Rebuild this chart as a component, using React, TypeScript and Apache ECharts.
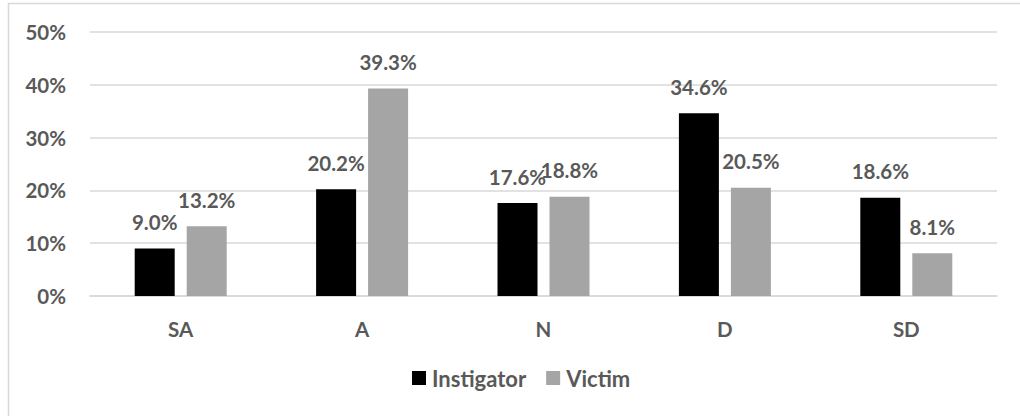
import React, { useEffect, useRef } from "react";
import * as echarts from "echarts";

const categories = ["SA", "A", "N", "D", "SD"];
const instigator = [9.0, 20.2, 17.6, 34.6, 18.6];
const victim = [13.2, 39.3, 18.8, 20.5, 8.1];
const seriesNames = ["Instigator", "Victim"];

const FONT = "Lato, 'Open Sans', sans-serif";
const TXT = "#595959";

export default function App() {
  const ref = useRef<HTMLDivElement>(null);
  useEffect(() => {
    if (!ref.current) return;
    const chart = echarts.init(ref.current, undefined, { renderer: "svg" });
    const label = {
      show: true,
      position: "top" as const,
      distance: 16,
      formatter: (p: any) => p.value.toFixed(1) + "%",
      color: TXT,
      fontFamily: FONT,
      fontWeight: "bold" as const,
      fontSize: 20.5,
    };
    chart.setOption({
      animation: false,
      backgroundColor: "#ffffff",
      graphic: [
        {
          type: "rect",
          shape: { x: 8.5, y: 3.5, width: 1100, height: 500 },
          style: { fill: "none", stroke: "#D9D9D9", lineWidth: 1.5 },
          silent: true,
        },
      ],
      grid: { left: 90, right: 23, top: 32, bottom: 120 },
      legend: {
        bottom: 22,
        left: 407,
        itemWidth: 14,
        itemHeight: 14,
        itemGap: 20,
        icon: "rect",
        textStyle: { color: TXT, fontFamily: FONT, fontWeight: "bold", fontSize: 22, padding: [0, 0, 0, 1] },
        data: seriesNames,
      },
      xAxis: {
        type: "category",
        data: categories,
        axisLine: { lineStyle: { color: "#D9D9D9", width: 1.5 } },
        axisTick: { show: false },
        axisLabel: { color: TXT, fontFamily: FONT, fontWeight: "bold", fontSize: 20.5, margin: 22 },
      },
      yAxis: {
        type: "value",
        min: 0,
        max: 50,
        interval: 10,
        axisLine: { show: false },
        axisTick: { show: false },
        splitLine: { lineStyle: { color: "#D9D9D9", width: 1.5 } },
        axisLabel: {
          color: TXT,
          fontFamily: FONT,
          fontWeight: "bold",
          fontSize: 20.5,
          margin: 24,
          formatter: (v: number) => v + "%",
        },
      },
      series: [
        {
          name: seriesNames[0],
          type: "bar",
          data: instigator,
          barWidth: 40,
          barGap: "30%",
          itemStyle: { color: "#000000" },
          label,
        },
        {
          name: seriesNames[1],
          type: "bar",
          data: victim,
          barWidth: 40,
          barGap: "30%",
          itemStyle: { color: "#A5A5A5" },
          label,
        },
      ],
    });
    return () => chart.dispose();
  }, []);
  return (
    <div
      ref={ref}
      style={{ position: "absolute", left: 0, top: 0, width: 1020, height: 416 }}
    />
  );
}
